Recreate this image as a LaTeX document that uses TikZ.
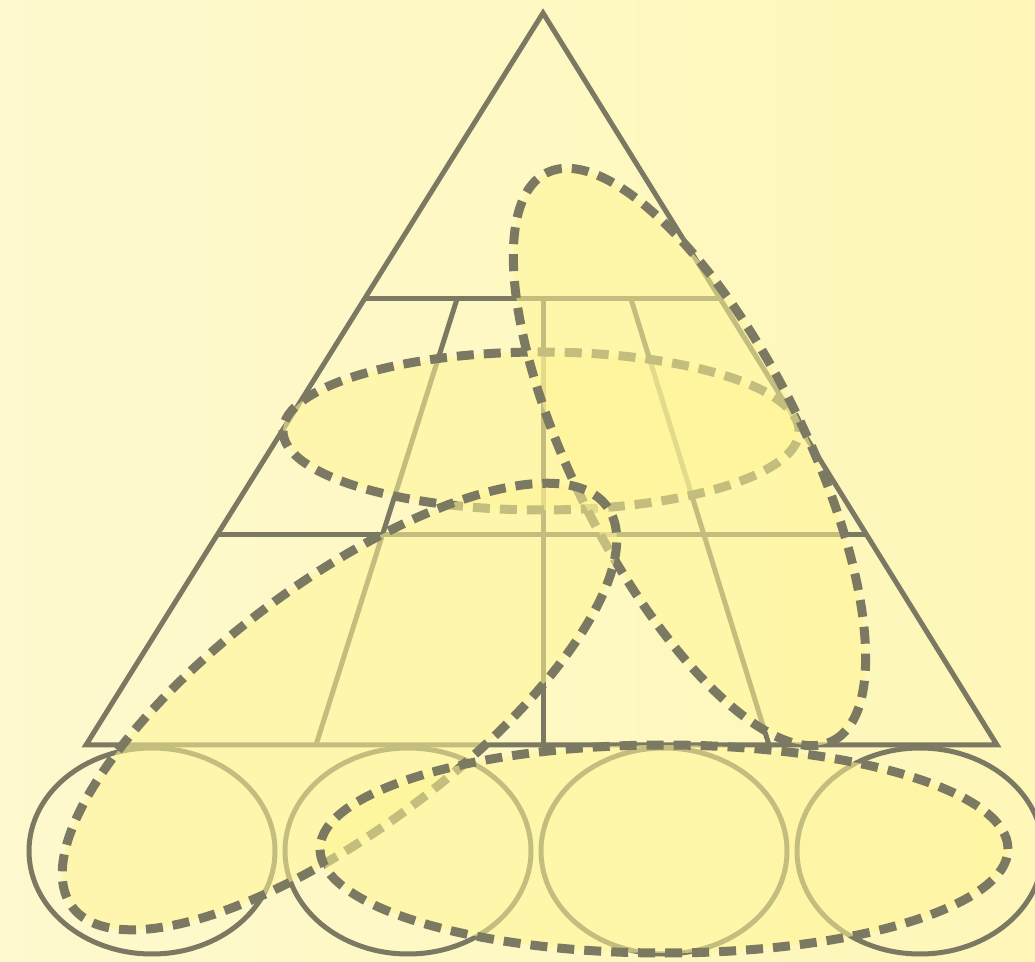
\documentclass[tikz,border=0pt]{standalone}
\definecolor{linec}{RGB}{124,121,98}
\definecolor{fillc}{RGB}{255,245,150}
\definecolor{bgl}{RGB}{254,249,206}
\definecolor{bgr}{RGB}{254,247,184}
\begin{document}
\begin{tikzpicture}[x=1pt,y=1pt,
  solidline/.style={draw=linec, line width=5pt},
  circ/.style={draw=linec, line width=5pt},
  group/.style={fill=fillc, fill opacity=0.55, draw=linec, draw opacity=1,
    line width=9pt, dash pattern=on 17pt off 10pt}]
\shade[left color=bgl, right color=bgr] (0,0) rectangle (1035,961);
\useasboundingbox (0,0) rectangle (1035,961);
% key points
\coordinate (apex) at (543,948);
\coordinate (bl) at (86,216);
\coordinate (br) at (997,216);
\coordinate (h1l) at (364.4,662);
\coordinate (h1r) at (720.4,662);
\coordinate (h2l) at (217,426);
\coordinate (h2r) at (867,426);
\coordinate (s1t) at (457,662);
\coordinate (s1b) at (316,216);
\coordinate (s2t) at (631,662);
\coordinate (s2b) at (769,216);
\coordinate (vt) at (543,662);
\coordinate (vb) at (543,216);
% pyramid
\draw[solidline, line join=miter] (apex) -- (bl) -- (br) -- cycle;
\draw[solidline] (h1l) -- (h1r);
\draw[solidline] (h2l) -- (h2r);
\draw[solidline] (s1t) -- (s1b);
\draw[solidline] (s2t) -- (s2b);
\draw[solidline] (vt) -- (vb);
% base circles
\foreach \cx/\nm in {152/c1,408/c2,664/c3,920/c4}{
  \coordinate (\nm) at (\cx,110);
  \draw[circ] (\nm) ellipse [x radius=123, y radius=103];
}
% groupings
\coordinate (gh) at (541,530);
\coordinate (gr) at (689.5,504);
\coordinate (gl) at (339.5,254.5);
\coordinate (gb) at (664,112);
\path[group] (gh) ellipse [x radius=258, y radius=79];
\path[group, rotate around={-63.25:(gr)}] (gr) ellipse [x radius=318, y radius=115];
\path[group, rotate around={36.87:(gl)}] (gl) ellipse [x radius=334, y radius=123];
\path[group] (gb) ellipse [x radius=344, y radius=104];
\end{tikzpicture}
\end{document}
